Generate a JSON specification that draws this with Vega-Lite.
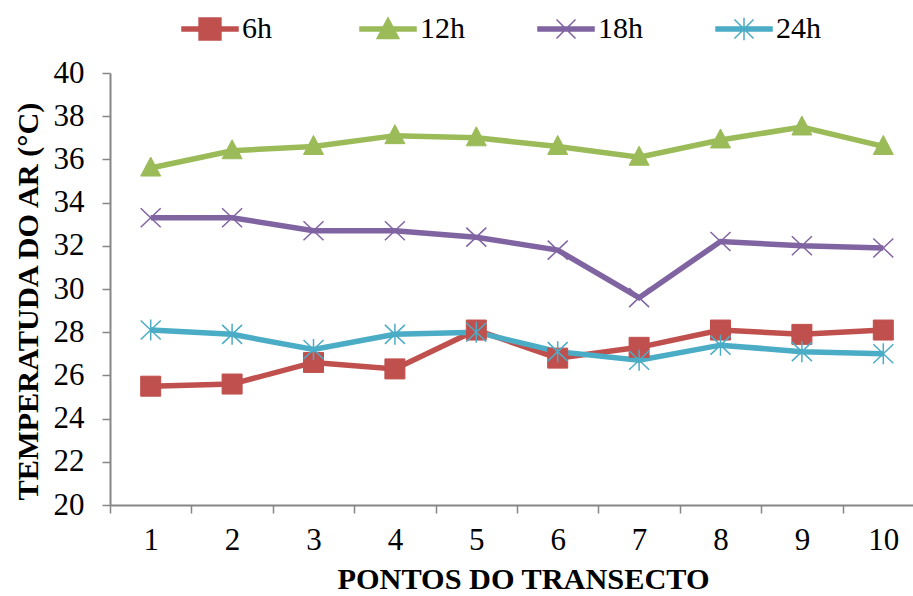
{
  "$schema": "https://vega.github.io/schema/vega-lite/v6.json",
  "width": 803,
  "height": 432,
  "autosize": "none",
  "padding": {"left": 110, "top": 73, "right": 0, "bottom": 91},
  "background": "white",
  "config": {
    "view": {"stroke": null},
    "font": "Liberation Serif"
  },
  "data": {
    "values": [
      {"ponto": 1, "serie": "6h", "temp": 25.5},
      {"ponto": 2, "serie": "6h", "temp": 25.6},
      {"ponto": 3, "serie": "6h", "temp": 26.6},
      {"ponto": 4, "serie": "6h", "temp": 26.3},
      {"ponto": 5, "serie": "6h", "temp": 28.1},
      {"ponto": 6, "serie": "6h", "temp": 26.8},
      {"ponto": 7, "serie": "6h", "temp": 27.3},
      {"ponto": 8, "serie": "6h", "temp": 28.1},
      {"ponto": 9, "serie": "6h", "temp": 27.9},
      {"ponto": 10, "serie": "6h", "temp": 28.1},
      {"ponto": 1, "serie": "12h", "temp": 35.6},
      {"ponto": 2, "serie": "12h", "temp": 36.4},
      {"ponto": 3, "serie": "12h", "temp": 36.6},
      {"ponto": 4, "serie": "12h", "temp": 37.1},
      {"ponto": 5, "serie": "12h", "temp": 37.0},
      {"ponto": 6, "serie": "12h", "temp": 36.6},
      {"ponto": 7, "serie": "12h", "temp": 36.1},
      {"ponto": 8, "serie": "12h", "temp": 36.9},
      {"ponto": 9, "serie": "12h", "temp": 37.5},
      {"ponto": 10, "serie": "12h", "temp": 36.6},
      {"ponto": 1, "serie": "18h", "temp": 33.3},
      {"ponto": 2, "serie": "18h", "temp": 33.3},
      {"ponto": 3, "serie": "18h", "temp": 32.7},
      {"ponto": 4, "serie": "18h", "temp": 32.7},
      {"ponto": 5, "serie": "18h", "temp": 32.4},
      {"ponto": 6, "serie": "18h", "temp": 31.8},
      {"ponto": 7, "serie": "18h", "temp": 29.6},
      {"ponto": 8, "serie": "18h", "temp": 32.2},
      {"ponto": 9, "serie": "18h", "temp": 32.0},
      {"ponto": 10, "serie": "18h", "temp": 31.9},
      {"ponto": 1, "serie": "24h", "temp": 28.1},
      {"ponto": 2, "serie": "24h", "temp": 27.9},
      {"ponto": 3, "serie": "24h", "temp": 27.2},
      {"ponto": 4, "serie": "24h", "temp": 27.9},
      {"ponto": 5, "serie": "24h", "temp": 28.0},
      {"ponto": 6, "serie": "24h", "temp": 27.1},
      {"ponto": 7, "serie": "24h", "temp": 26.7},
      {"ponto": 8, "serie": "24h", "temp": 27.4},
      {"ponto": 9, "serie": "24h", "temp": 27.1},
      {"ponto": 10, "serie": "24h", "temp": 27.0}
    ]
  },
  "encoding": {
    "x": {
      "field": "ponto",
      "type": "ordinal",
      "scale": {"range": [0, 814], "paddingInner": 0, "paddingOuter": 0},
      "axis": {
        "title": "PONTOS DO TRANSECTO",
        "titleFont": "Liberation Serif",
        "titleFontSize": 30.3,
        "titleFontWeight": "bold",
        "titleColor": "black",
        "titleX": 413,
        "titleY": 83,
        "titleBaseline": "alphabetic",
        "titleAlign": "center",
        "labelAngle": 0,
        "labelFont": "Liberation Serif",
        "labelFontSize": 31,
        "labelColor": "black",
        "labelPadding": 12,
        "tickBand": "extent",
        "tickSize": 8,
        "tickWidth": 1.5,
        "tickColor": "#868686",
        "domainColor": "#868686",
        "domainWidth": 2,
        "grid": false
      }
    },
    "y": {
      "field": "temp",
      "type": "quantitative",
      "scale": {"domain": [20, 40], "nice": false, "zero": false},
      "axis": {
        "values": [20, 22, 24, 26, 28, 30, 32, 34, 36, 38, 40],
        "title": "TEMPERATUDA DO AR (°C)",
        "titleFont": "Liberation Serif",
        "titleFontSize": 30.3,
        "titleFontWeight": "bold",
        "titleColor": "black",
        "titleAngle": -90,
        "titleX": -82,
        "titleY": 228,
        "titleBaseline": "middle",
        "titleAlign": "center",
        "labelFont": "Liberation Serif",
        "labelFontSize": 31,
        "labelColor": "black",
        "labelPadding": 18,
        "tickSize": 8,
        "tickWidth": 1.5,
        "tickColor": "#868686",
        "domainColor": "#868686",
        "domainWidth": 2,
        "grid": false
      }
    },
    "color": {
      "field": "serie",
      "type": "nominal",
      "scale": {
        "domain": ["6h", "12h", "18h", "24h"],
        "range": ["#C0504D", "#9BBB59", "#8064A2", "#4BACC6"]
      },
      "legend": {
        "orient": "none",
        "legendX": 71,
        "legendY": -73,
        "direction": "horizontal",
        "title": null,
        "padding": 0,
        "labelFont": "Liberation Serif",
        "labelFontSize": 30,
        "labelColor": "black",
        "labelOffset": 3,
        "symbolSize": 3136,
        "columnPadding": 70,
        "gridAlign": "all",
        "encode": {
          "symbols": {
            "update": {
              "shape": {"signal": "datum.value === '6h' ? 'M-1,-0.07H1V0.07H-1ZM-0.39,-0.39H0.39V0.39H-0.39Z' : datum.value === '12h' ? 'M-1,-0.07H1V0.07H-1ZM0,-0.4L0.39,0.34H-0.39Z' : datum.value === '18h' ? 'M-1,-0.07H1V0.07H-1ZM-0.34,-0.34L0.34,0.34M-0.34,0.34L0.34,-0.34' : 'M-1,-0.07H1V0.07H-1ZM-0.34,-0.34L0.34,0.34M-0.34,0.34L0.34,-0.34M0,-0.4V0.4'"},
              "fill": {"signal": "scale('color', datum.value)"},
              "stroke": {"signal": "scale('color', datum.value)"},
              "strokeWidth": {"value": 1.5},
              "opacity": {"value": 1},
              "fillOpacity": {"value": 1},
              "strokeOpacity": {"value": 1}
            }
          }
        }
      }
    }
  },
  "layer": [
    {
      "mark": {"type": "line", "strokeWidth": 5.5}
    },
    {
      "transform": [{"filter": "datum.serie === '6h'"}],
      "mark": {"type": "point", "shape": "M-1,-1H1V1H-1Z", "filled": true, "opacity": 1, "size": 400, "strokeWidth": 1, "stroke": "#C0504D"}
    },
    {
      "transform": [{"filter": "datum.serie === '12h'"}],
      "mark": {"type": "point", "shape": "M0,-1.1L1,0.8H-1Z", "filled": true, "opacity": 1, "size": 400, "strokeWidth": 1, "stroke": "#9BBB59"}
    },
    {
      "transform": [{"filter": "datum.serie === '18h'"}],
      "mark": {"type": "point", "shape": "M-1,-0.95L1,0.95M-1,0.95L1,-0.95", "filled": true, "opacity": 1, "size": 400, "strokeWidth": 1.5, "stroke": "#8064A2"}
    },
    {
      "transform": [{"filter": "datum.serie === '24h'"}],
      "mark": {"type": "point", "shape": "M-1,-0.95L1,0.95M-1,0.95L1,-0.95M0,-1.05V1.05", "filled": true, "opacity": 1, "size": 400, "strokeWidth": 1.5, "stroke": "#4BACC6"}
    }
  ]
}
